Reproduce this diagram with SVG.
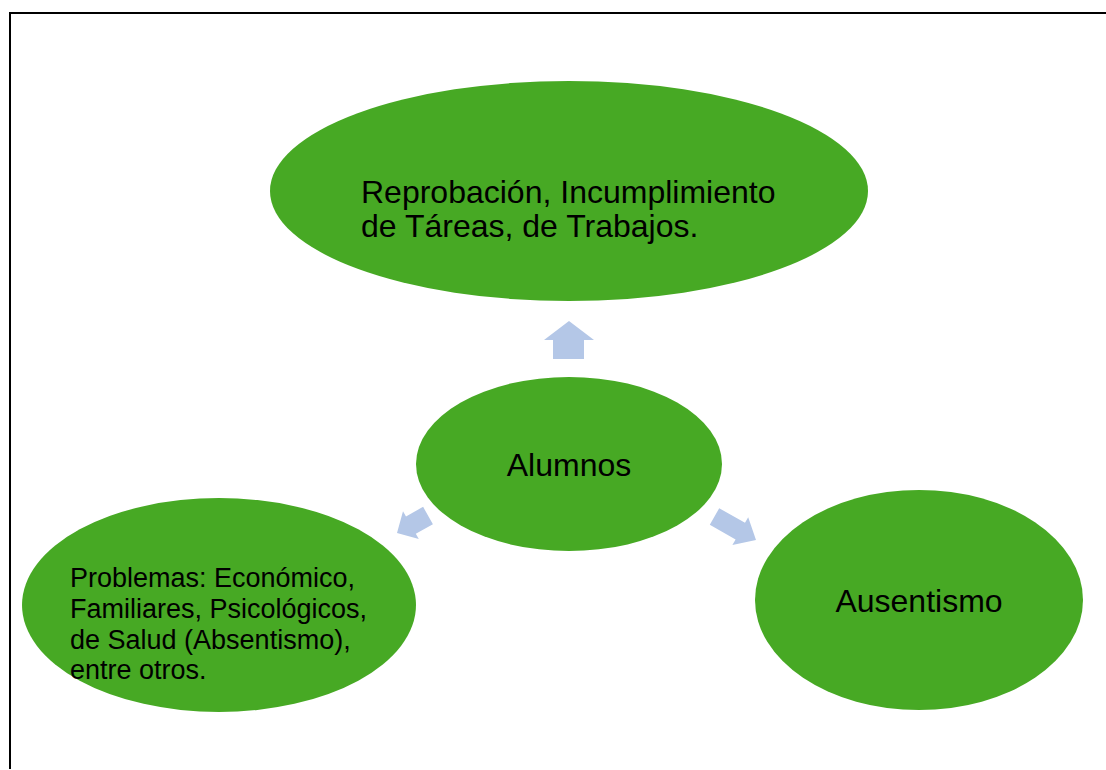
<svg xmlns="http://www.w3.org/2000/svg" width="1106" height="770" viewBox="0 0 1106 770">
<style>
.node{fill:#47A924;}
.t{font-family:"Liberation Sans",Arial,sans-serif;fill:#000;}
.arr{fill:#B4C7E7;}
.frame{stroke:#000;stroke-width:2;fill:none;}
</style>
<rect width="1106" height="770" fill="#fff"/>
<path class="frame" d="M10,769 V13 H1106"/>
<g id="connectors">
<polygon class="arr" points="553,359 553,340 544,340 569,321 594,340 584,340 584,359"/>
<polygon class="arr" points="423.1,506.8 406.0,516.4 403.0,511.2 397,533 418.8,539.0 415.8,533.8 432.9,524.2"/>
<polygon class="arr" points="719.2,508.2 745.0,522.8 748.2,517.2 756,540 732.4,545.0 735.6,539.4 709.8,524.8"/>
</g>
<g id="node-reprobacion">
<ellipse class="node" cx="569" cy="191" rx="299" ry="110"/>
<text class="t" font-size="32" x="361" y="203">Reprobación, Incumplimiento</text>
<text class="t" font-size="32" x="361" y="237">de Táreas, de Trabajos.</text>
</g>
<g id="node-alumnos">
<ellipse class="node" cx="569" cy="464" rx="153" ry="87"/>
<text class="t" font-size="32" x="569" y="476" text-anchor="middle">Alumnos</text>
</g>
<g id="node-problemas">
<ellipse class="node" cx="219" cy="605" rx="197" ry="107"/>
<text class="t" font-size="27" x="70" y="587">Problemas: Económico,</text>
<text class="t" font-size="27" x="70" y="618">Familiares, Psicológicos,</text>
<text class="t" font-size="27" x="70" y="649">de Salud (Absentismo),</text>
<text class="t" font-size="27" x="70" y="679">entre otros.</text>
</g>
<g id="node-ausentismo">
<ellipse class="node" cx="919" cy="600" rx="164" ry="110"/>
<text class="t" font-size="32" x="919" y="612" text-anchor="middle">Ausentismo</text>
</g>
</svg>
